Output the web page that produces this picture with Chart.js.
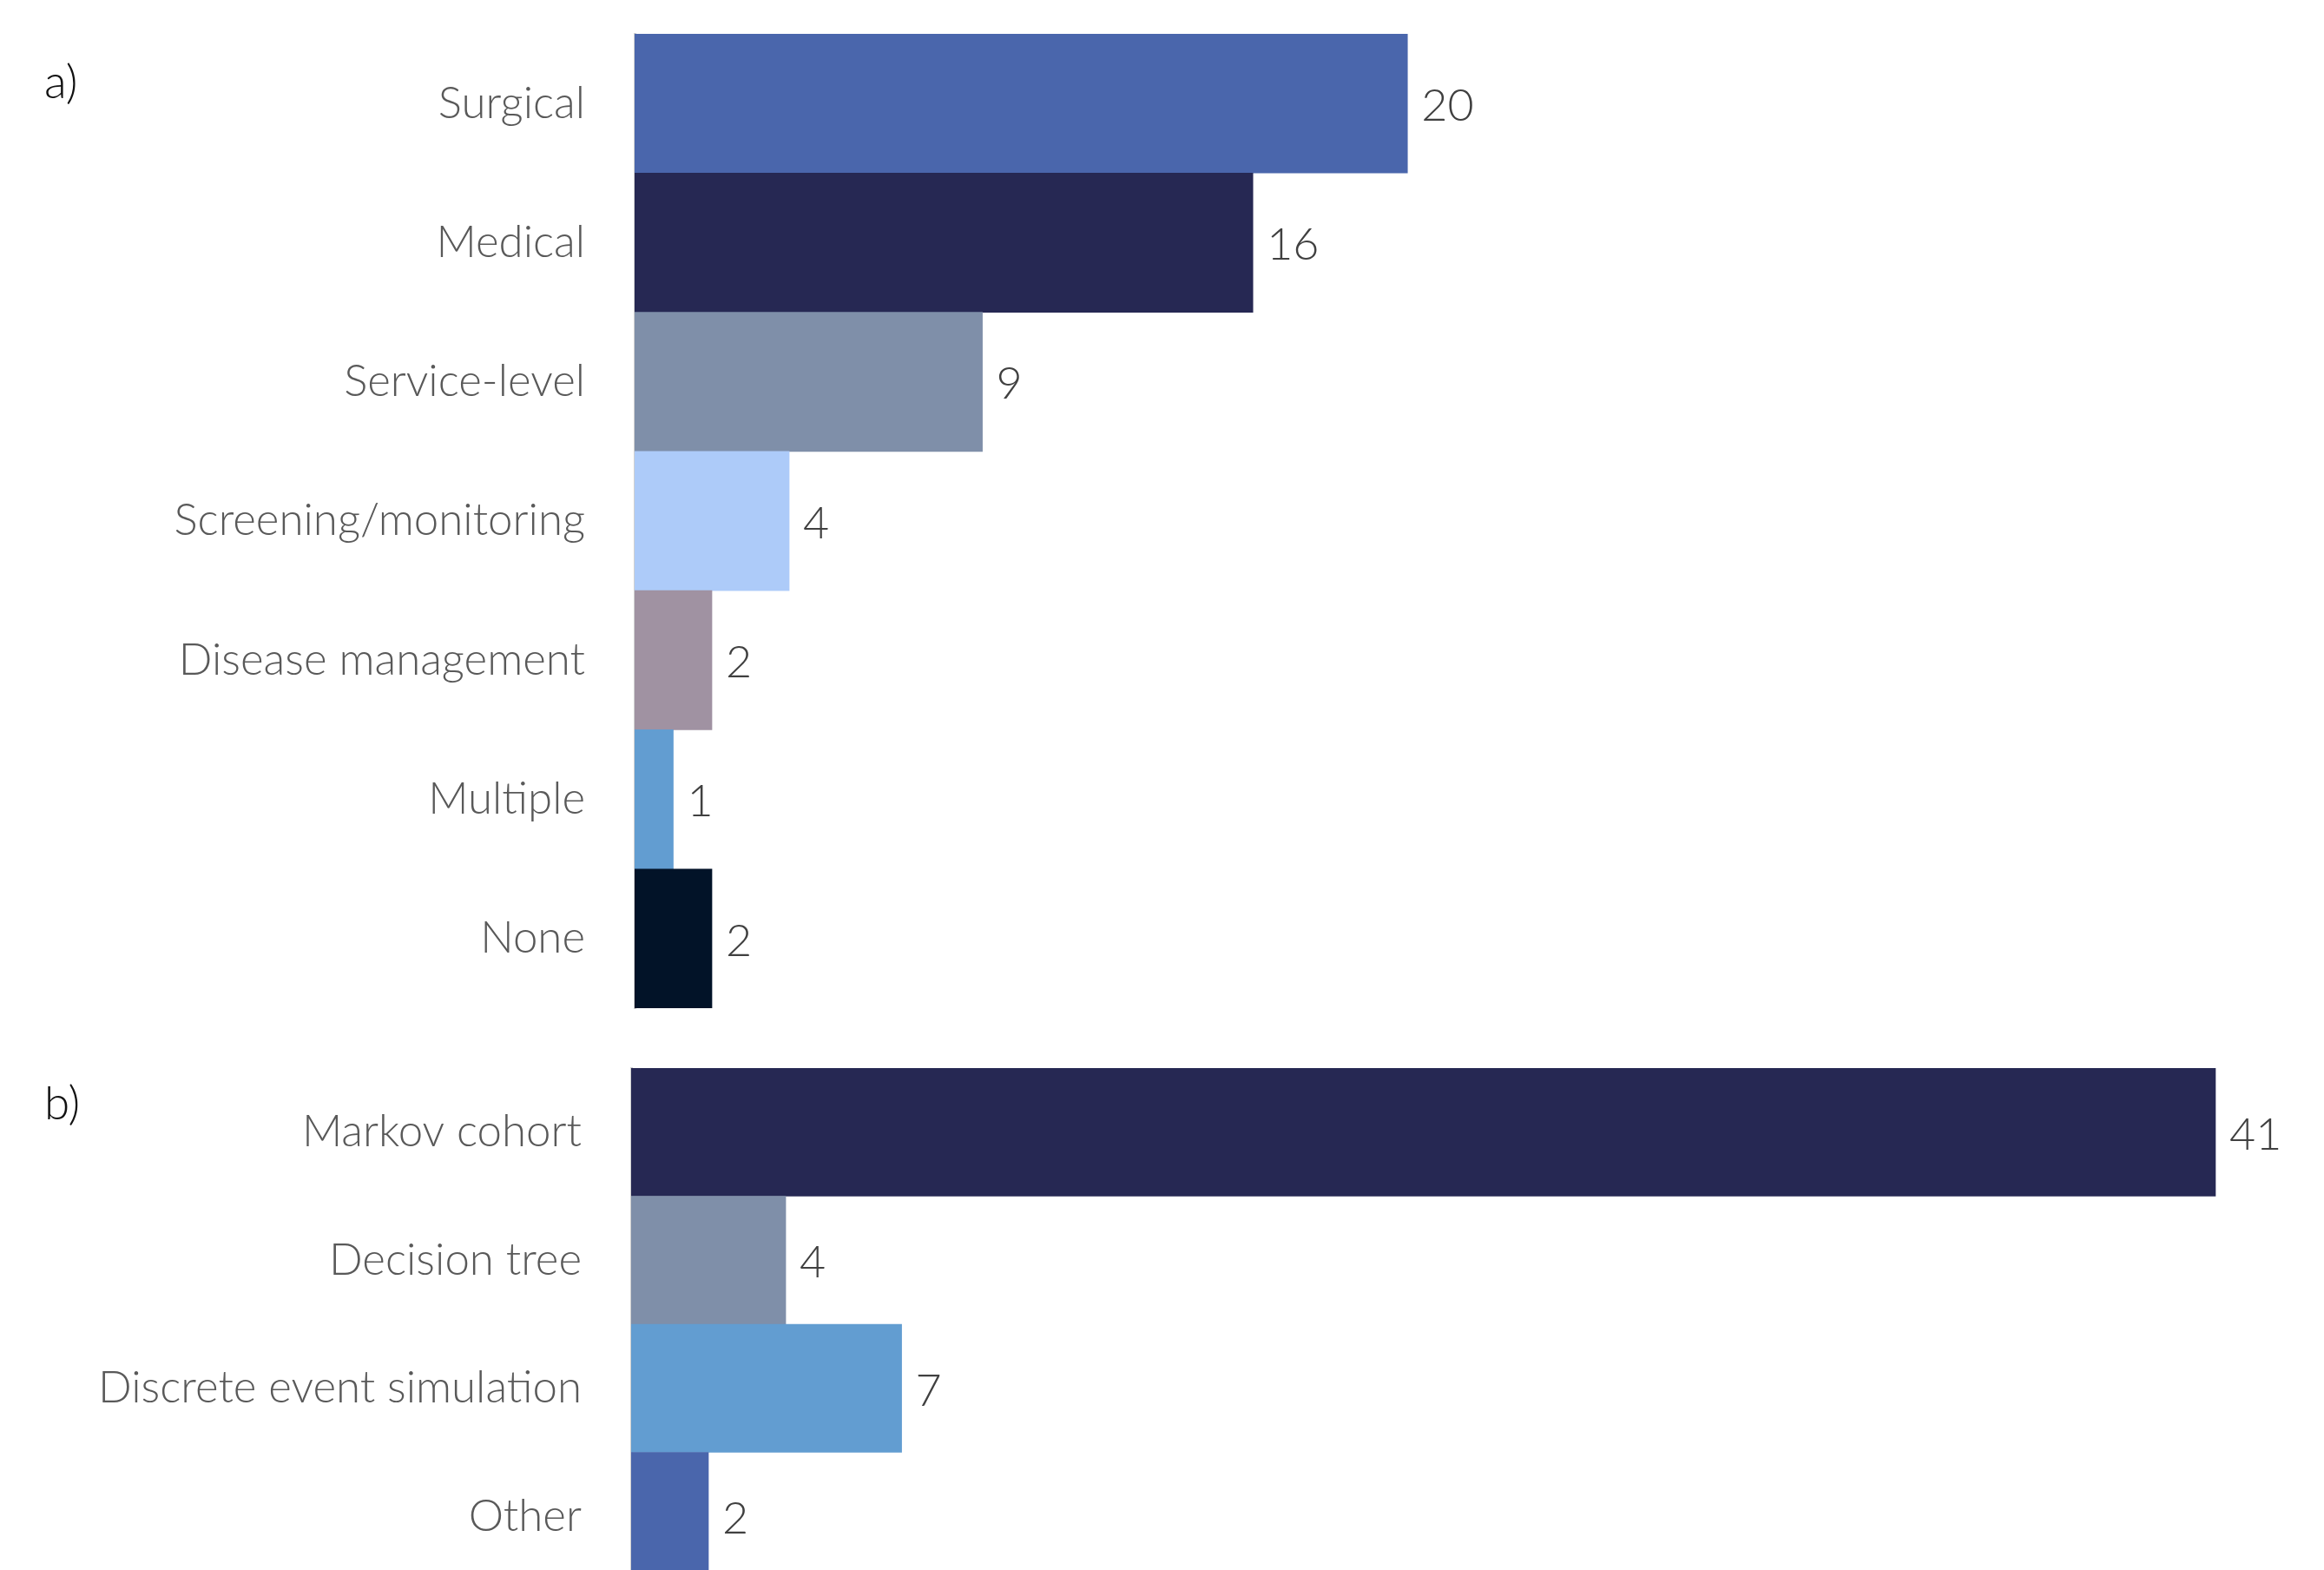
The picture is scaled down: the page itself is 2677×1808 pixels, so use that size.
<!DOCTYPE html>
<html>
<head>
<meta charset="utf-8">
<script src="https://cdn.jsdelivr.net/npm/chart.js@4.4.1/dist/chart.umd.min.js"></script>
<style>
  html, body { margin: 0; padding: 0; background: #fff; overflow: hidden; width: 2677px; height: 1808px; }
  .panel { position: absolute; left: 0; width: 2677px; }
  #wrapA { top: 0; height: 1190px; }
  #wrapB { top: 1190px; height: 640px; }
  .tag { position: absolute; left: 51px; font: 300 53px Lato, sans-serif; line-height: 53px; color: #111; }
</style>
</head>
<body>
<div class="panel" id="wrapA"><canvas id="chartA" width="2677" height="1190"></canvas></div>
<div class="panel" id="wrapB"><canvas id="chartB" width="2677" height="640"></canvas></div>
<div class="tag" style="top:66px">a)</div>
<div class="tag" style="top:1242px">b)</div>
<script>
// a) intervention type
const typeLabels = ['Surgical', 'Medical', 'Service-level', 'Screening/monitoring', 'Disease management', 'Multiple', 'None'];
const typeCounts = [20, 16, 9, 4, 2, 1, 2];
const typeColors = ['#4A66AC', '#262853', '#7F8FA9', '#ADCBF9', '#A092A2', '#629DD1', '#021328'];

// b) model type
const modelLabels = ['Markov cohort', 'Decision tree', 'Discrete event simulation', 'Other'];
const modelCounts = [41, 4, 7, 2];
const modelColors = ['#262853', '#7F8FA9', '#629DD1', '#4A66AC'];

const xMax = 43;
const labelFont = { family: 'Lato', size: 51, weight: 300 };

// value next to the end of each bar
const valueLabels = {
  id: 'valueLabels',
  afterDatasetsDraw(chart) {
    const ctx = chart.ctx;
    const data = chart.data.datasets[0].data;
    ctx.save();
    ctx.font = '300 52px Lato';
    ctx.fillStyle = '#404040';
    ctx.textBaseline = 'middle';
    chart.getDatasetMeta(0).data.forEach((bar, i) => {
      ctx.fillText(data[i], bar.x + 16, bar.y + 3);
    });
    ctx.restore();
  }
};

function makeChart(id, labels, values, colors, axisWidth, padding) {
  return new Chart(document.getElementById(id), {
    type: 'bar',
    data: {
      labels: labels,
      datasets: [{
        data: values,
        backgroundColor: colors,
        borderWidth: 0,
        barPercentage: 1,
        categoryPercentage: 1
      }]
    },
    options: {
      indexAxis: 'y',
      responsive: false,
      animation: false,
      layout: { padding: padding },
      plugins: { legend: { display: false }, tooltip: { enabled: false } },
      scales: {
        x: { display: false, min: 0, max: xMax },
        y: {
          grid: { display: false, drawTicks: false },
          border: { display: true, color: '#D0D0D0', width: 3 },
          ticks: { color: '#595959', font: labelFont, padding: 57 },
          afterFit: scale => {
            scale.width = axisWidth;
            scale.paddingTop = 0;
            scale.paddingBottom = 0;
          }
        }
      }
    },
    plugins: [valueLabels]
  });
}

makeChart('chartA', typeLabels, typeCounts, typeColors, 731, { top: 39, bottom: 29, left: 0, right: 32 });
makeChart('chartB', modelLabels, modelCounts, modelColors, 727, { top: 40, bottom: 10, left: 0, right: 36 });
</script>
</body>
</html>
